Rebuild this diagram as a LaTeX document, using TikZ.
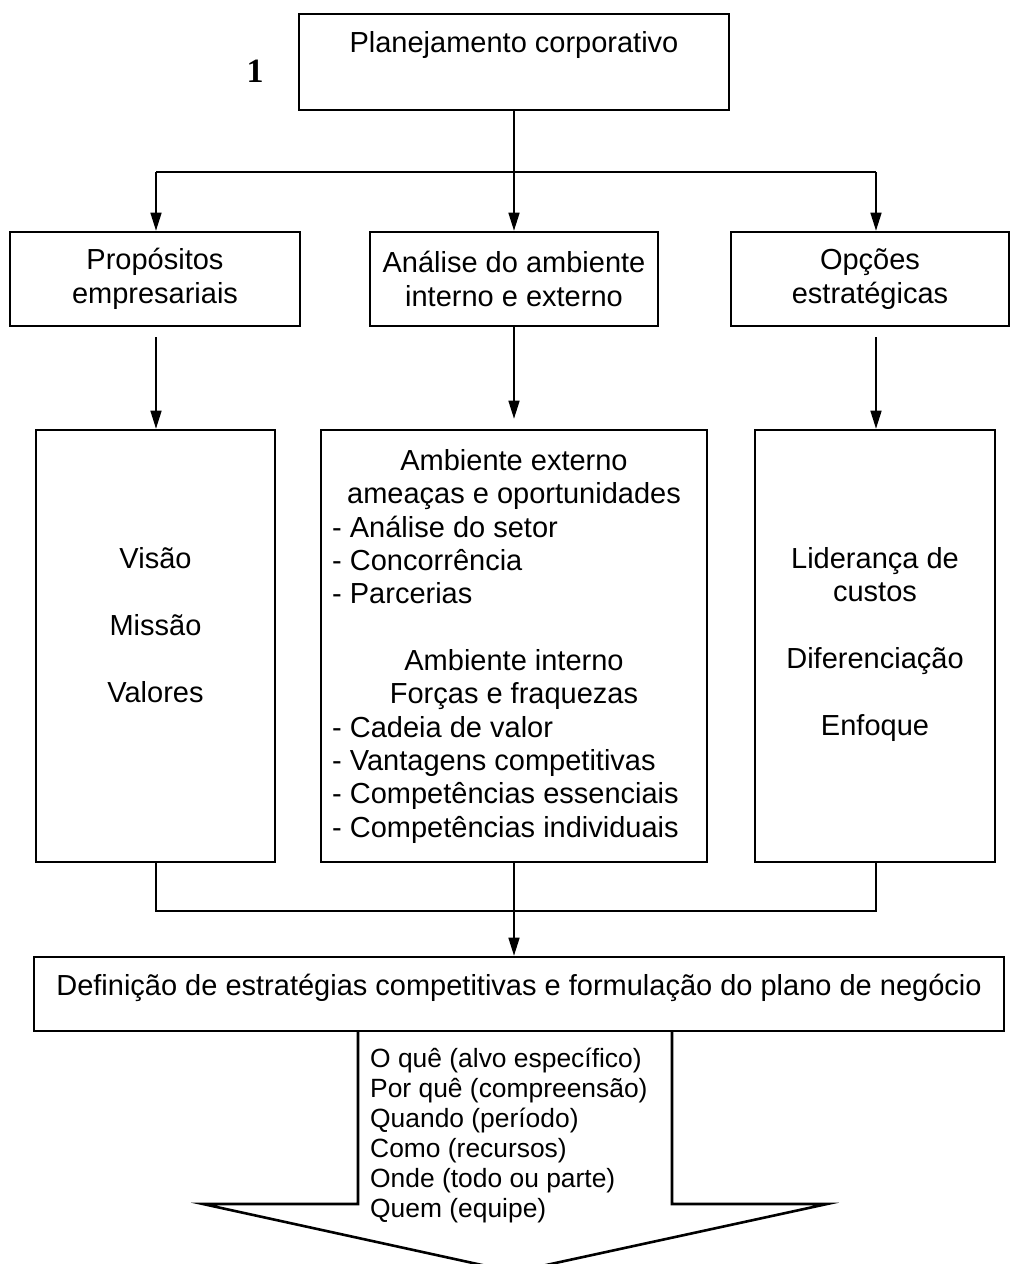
\documentclass[tikz,border=0pt]{standalone}
\usepackage{fontspec}
\setmainfont{Liberation Sans}
\newfontfamily\numfont{Liberation Serif}
\usetikzlibrary{arrows.meta}
\begin{document}
\begin{tikzpicture}[x=1pt,y=-1pt,
  box/.style={draw, line width=2.6pt, inner sep=0pt},
  conn/.style={line width=1.5pt},
  arr/.style={conn, -{Triangle[length=18pt,width=11pt]}},
  txt/.style={inner sep=0pt, font=\fontsize{29}{33.4}\selectfont},
  small/.style={inner sep=0pt, font=\fontsize{26.4}{30}\selectfont},
]
\useasboundingbox (0,0) rectangle (1011,1264);

% top level
\node[box, minimum width=430pt, minimum height=96pt] (plan) at (514,62) {};
\node[txt, anchor=base] (plantxt) at (514,52) {Planejamento corporativo};
\node[anchor=base, inner sep=0pt, font=\numfont\bfseries\fontsize{34}{34}\selectfont] (num) at (255,82) {1};

% second row
\node[box, txt, align=center, minimum width=290pt, minimum height=94pt] (prop) at (155,279) {Propósitos\\empresariais};
\node[box, txt, align=center, minimum width=288pt, minimum height=94pt] (anal) at (514,279) {Análise do ambiente\\interno e externo};
\node[box, txt, align=center, minimum width=278pt, minimum height=94pt] (opc) at (870,279) {Opções\\estratégicas};

\coordinate (hbL) at (156,172);
\coordinate (hbR) at (876,172);
\draw[conn] (hbL) -- (hbR);
\draw[arr] (plan.south) -- (anal.north);
\draw[arr] (hbL) -- (hbL |- prop.north);
\draw[arr] (hbR) -- (hbR |- opc.north);

% third row
\node[box, minimum width=239pt, minimum height=432pt] (vis) at (155.5,646) {};
\node[box, minimum width=386pt, minimum height=432pt] (amb) at (514,646) {};
\node[box, minimum width=240pt, minimum height=432pt] (lid) at (875,646) {};

\draw[arr, shorten <=10pt] (hbL |- prop.south) -- (hbL |- vis.north);
\draw[arr, shorten >=10pt] (anal.south) -- (amb.north);
\draw[arr, shorten <=10pt] (hbR |- opc.south) -- (hbR |- lid.north);

% multi-line texts are placed by the baseline of their last line
\node[txt, anchor=base, align=center] (vistxt) at (155.5,702) {Visão\\[33.4pt]Missão\\[33.4pt]Valores};
\node[txt, anchor=base, align=center] (lidtxt) at (875,735) {Liderança de\\custos\\[33.4pt]Diferenciação\\[33.4pt]Enfoque};

\node[txt, anchor=base, align=center] (exthead) at (514,503.4) {Ambiente externo\\ameaças e oportunidades};
\node[txt, anchor=base west, align=left] (extlist) at (332,603.8) {- Análise do setor\\- Concorrência\\- Parcerias};
\node[txt, anchor=base, align=center] (inthead) at (514,703.4) {Ambiente interno\\Forças e fraquezas};
\node[txt, anchor=base west, align=left] (intlist) at (332,837.2) {- Cadeia de valor\\- Vantagens competitivas\\- Competências essenciais\\- Competências individuais};

% bottom block
\node[box, minimum width=970pt, minimum height=74pt] (def) at (519,994) {};
\node[txt, anchor=base] (deftxt) at (519,995) {Definição de estratégias competitivas e formulação do plano de negócio};

\coordinate (jn) at (514,911);
\draw[conn] (hbL |- vis.south) |- (hbR |- jn) -- (hbR |- lid.south);
\draw[arr] (amb.south) -- (amb.south |- def.north);

% block arrow below the plan
\draw[line width=2.6pt, line join=miter] (358,1031) -- (358,1204) -- (203,1204) -- (514,1272) -- (827,1204) -- (672,1204) -- (672,1031);
\node[small, anchor=base west, align=left] (quest) at (370,1217) {O quê (alvo específico)\\Por quê (compreensão)\\Quando (período)\\Como (recursos)\\Onde (todo ou parte)\\Quem (equipe)};
\end{tikzpicture}
\end{document}
